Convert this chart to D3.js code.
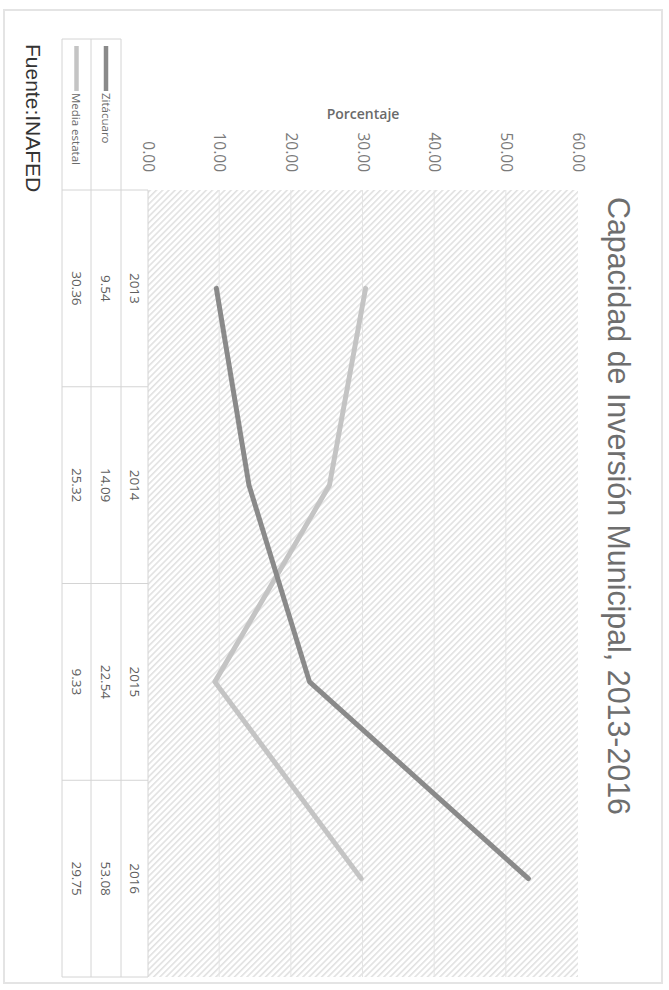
<!DOCTYPE html>
<html>
<head>
<meta charset="utf-8">
<script src="https://cdn.jsdelivr.net/npm/d3@7"></script>
<style>
  html, body { margin: 0; padding: 0; background: #ffffff; }
  svg { display: block; }
</style>
</head>
<body>
<svg id="chart" width="669" height="990"></svg>
<script>
// ---- data ----
const years = ["2013", "2014", "2015", "2016"];
const zitacuaro = [9.54, 14.09, 22.54, 53.08];
const mediaEstatal = [30.36, 25.32, 9.33, 29.75];
const seriesNames = ["Zitácuaro", "Media estatal"];
const yTicks = [0, 10, 20, 30, 40, 50, 60];
const titleText = "Capacidad de Inversión Municipal, 2013-2016";
const axisTitle = "Porcentaje";
const sourceText = "Fuente:INAFED";

// ---- setup ----
const W = 669, H = 990;
const svg = d3.select("#chart");

// outer frame (screen coordinates)
svg.append("rect")
  .attr("x", 4).attr("y", 10).attr("width", 658).attr("height", 973)
  .attr("fill", "#ffffff").attr("stroke", "#e4e4e4").attr("stroke-width", 2);

const defs = svg.append("defs");
const pat = defs.append("pattern")
  .attr("id", "hatch").attr("patternUnits", "userSpaceOnUse")
  .attr("width", 4.4).attr("height", 4.4)
  .attr("patternTransform", "rotate(-45)");
pat.append("rect").attr("width", 4.4).attr("height", 4.4).attr("fill", "#ffffff");
pat.append("line").attr("x1", 0.8).attr("y1", 0).attr("x2", 0.8).attr("y2", 4.4)
  .attr("stroke", "#e0e0e0").attr("stroke-width", 1.5);

// chart drawn in landscape coordinates, rotated 90deg clockwise onto the page
const g = svg.append("g").attr("transform", `translate(${W},0) rotate(90)`);

const plotLeft = 190, plotRight = 977;
const x = d3.scaleBand().domain(years).range([plotLeft, plotRight]).padding(0);
const y = d3.scaleLinear().domain([0, 60]).range([521, 91]);

// plot background (hatched)
g.append("rect")
  .attr("x", plotLeft).attr("y", y(60))
  .attr("width", plotRight - plotLeft).attr("height", y(0) - y(60))
  .attr("fill", "url(#hatch)");

// gridlines
const grid = g.append("g").attr("transform", `translate(${plotLeft},0)`)
  .call(d3.axisLeft(y).tickValues(yTicks.filter(t => t > 0 && t < 60))
    .tickSize(-(plotRight - plotLeft)).tickFormat(""));
grid.select(".domain").remove();
grid.selectAll(".tick line").attr("stroke", "#e4e4e4").attr("stroke-width", 1);

// value axis labels
const yAxis = g.append("g").attr("transform", `translate(172,0)`)
  .call(d3.axisLeft(y).tickValues(yTicks).tickSize(0).tickPadding(0)
    .tickFormat(d3.format(".2f")));
yAxis.select(".domain").remove();
yAxis.selectAll("text")
  .attr("font-family", "'Open Sans', sans-serif")
  .attr("font-size", 15.5).attr("fill", "#7a7a7a");

// axis title
g.append("text")
  .attr("transform", `translate(113,${(y(0) + y(60)) / 2}) rotate(-90)`)
  .attr("text-anchor", "middle").attr("dominant-baseline", "central")
  .attr("font-family", "'Open Sans', sans-serif").attr("font-weight", 600)
  .attr("font-size", 14).attr("fill", "#6a6a6a")
  .text(axisTitle);

// lines
const lineGen = d3.line()
  .x((d, i) => x(years[i]) + x.bandwidth() / 2)
  .y(d => y(d));
const seriesColors = ["#8a8a8a", "#c4c4c4"];
g.append("path").datum(mediaEstatal).attr("d", lineGen)
  .attr("fill", "none").attr("stroke", seriesColors[1]).attr("stroke-width", 5)
  .attr("stroke-linecap", "round").attr("stroke-linejoin", "round");
g.append("path").datum(zitacuaro).attr("d", lineGen)
  .attr("fill", "none").attr("stroke", seriesColors[0]).attr("stroke-width", 5)
  .attr("stroke-linecap", "round").attr("stroke-linejoin", "round");

// data table
const rowEdges = [521, 548, 578, 607];
const table = g.append("g");
const lineColor = "#d4d4d4";
table.append("line").attr("x1", plotLeft).attr("x2", plotRight)
  .attr("y1", rowEdges[0]).attr("y2", rowEdges[0]).attr("stroke", lineColor);
[1, 2, 3].forEach(k => {
  table.append("line").attr("x1", 39).attr("x2", plotRight)
    .attr("y1", rowEdges[k]).attr("y2", rowEdges[k]).attr("stroke", lineColor);
});
years.forEach(yr => {
  table.append("line").attr("x1", x(yr)).attr("x2", x(yr))
    .attr("y1", rowEdges[0]).attr("y2", rowEdges[3]).attr("stroke", lineColor);
});
table.append("line").attr("x1", plotRight).attr("x2", plotRight)
  .attr("y1", rowEdges[0]).attr("y2", rowEdges[3]).attr("stroke", lineColor);
table.append("line").attr("x1", 39).attr("x2", 39)
  .attr("y1", rowEdges[1]).attr("y2", rowEdges[3]).attr("stroke", lineColor);

const rowCenter = k => (rowEdges[k] + rowEdges[k + 1]) / 2;
const rows = [years, zitacuaro.map(d3.format(".2f")), mediaEstatal.map(d3.format(".2f"))];
rows.forEach((vals, k) => {
  table.selectAll(null).data(vals).enter().append("text")
    .attr("x", (d, i) => x(years[i]) + x.bandwidth() / 2)
    .attr("y", rowCenter(k))
    .attr("text-anchor", "middle").attr("dominant-baseline", "central")
    .attr("font-family", "'Open Sans', sans-serif").attr("font-size", 13.5)
    .attr("fill", "#5e5e5e")
    .text(d => d);
});

// legend in table header
seriesNames.forEach((name, k) => {
  const cy = rowCenter(k + 1);
  table.append("line").attr("x1", 46).attr("x2", 91).attr("y1", cy).attr("y2", cy)
    .attr("stroke", seriesColors[k]).attr("stroke-width", 4.5);
  table.append("text").attr("x", 93).attr("y", cy)
    .attr("dominant-baseline", "central")
    .attr("font-family", "'Open Sans', sans-serif").attr("font-size", 11.5)
    .attr("fill", "#6a6a6a").text(name);
});

// title
g.append("text")
  .attr("x", 197).attr("y", 61)
  .attr("font-family", "'Liberation Sans', Arial, sans-serif")
  .attr("font-size", 30.5).attr("fill", "#6e6e6e")
  .attr("textLength", 618).attr("lengthAdjust", "spacingAndGlyphs")
  .text(titleText);

// source
g.append("text")
  .attr("x", 44).attr("y", 643)
  .attr("font-family", "'Liberation Sans', Arial, sans-serif")
  .attr("font-size", 21).attr("fill", "#333333")
  .text(sourceText);
</script>
</body>
</html>
